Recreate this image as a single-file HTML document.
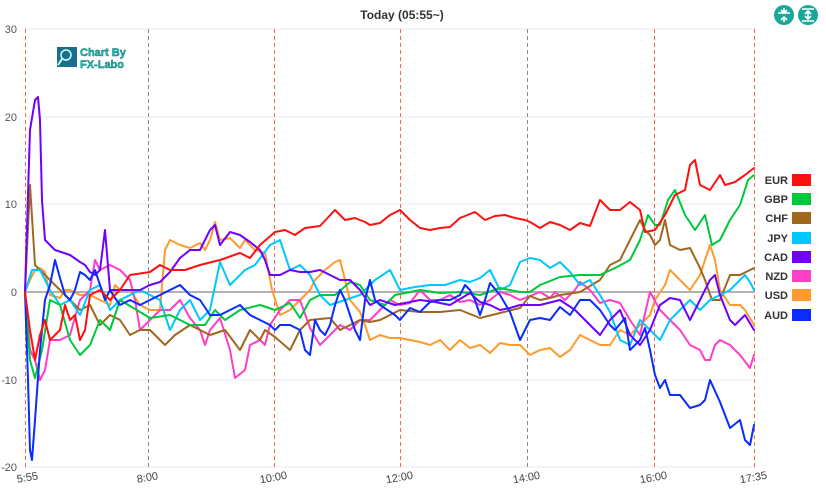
<!DOCTYPE html>
<html><head><meta charset="utf-8"><style>
html,body{margin:0;padding:0;background:#fff;}
svg{display:block;font-family:"Liberation Sans",sans-serif;}
</style></head><body>
<svg width="826" height="497" viewBox="0 0 826 497" xmlns="http://www.w3.org/2000/svg">
<rect width="826" height="497" fill="#fff"/>
<text x="402" y="19" font-size="12" font-weight="bold" fill="#333" text-anchor="middle">Today  (05:55~)</text>
<circle cx="784" cy="15" r="10" fill="#1aa79a"/>
<circle cx="808" cy="15" r="10" fill="#1aa79a"/>
<path d="M778 13h12M784 8v4M784 18v4M781 10l3 3 3-3M781 20l3-3 3 3" stroke="#fff" stroke-width="1.6" fill="none"/>
<path d="M802 9h12M802 21h12M808 11v8M805 14l3-3 3 3M805 16l3 3 3-3" stroke="#fff" stroke-width="1.6" fill="none"/>
<g stroke="#e6e9f0" stroke-width="1">
<line x1="25" y1="29" x2="755" y2="29"/><line x1="25" y1="117" x2="755" y2="117"/><line x1="25" y1="204" x2="755" y2="204"/><line x1="25" y1="380" x2="755" y2="380"/><line x1="25" y1="467" x2="755" y2="467"/>
</g>
<line x1="25" y1="292" x2="755" y2="292" stroke="#999" stroke-width="1.5"/>
<g font-size="11" fill="#555" text-anchor="end">
<text x="17" y="33">30</text><text x="17" y="121">20</text><text x="17" y="208">10</text><text x="17" y="296">0</text><text x="17" y="384">-10</text><text x="17" y="471">-20</text>
</g>
<g stroke="#ee6a50" stroke-width="1" stroke-dasharray="4,3">
<line x1="25.5" y1="29" x2="25.5" y2="467"/><line x1="274.5" y1="29" x2="274.5" y2="467"/><line x1="400.5" y1="29" x2="400.5" y2="467"/><line x1="654.5" y1="29" x2="654.5" y2="467"/><line x1="754.5" y1="29" x2="754.5" y2="467"/>
</g>
<g stroke="#8a8a8a" stroke-width="1" stroke-dasharray="4,3">
<line x1="148.5" y1="29" x2="148.5" y2="467"/><line x1="527.5" y1="29" x2="527.5" y2="467"/>
</g>
<g font-size="11" fill="#444" text-anchor="middle">
<text transform="translate(28,481) rotate(-10)">5:55</text>
<text transform="translate(148,481) rotate(-10)">8:00</text>
<text transform="translate(274,481) rotate(-10)">10:00</text>
<text transform="translate(400,481) rotate(-10)">12:00</text>
<text transform="translate(527,481) rotate(-10)">14:00</text>
<text transform="translate(654,481) rotate(-10)">16:00</text>
<text transform="translate(754,481) rotate(-10)">17:35</text>
</g>
<rect x="57" y="47" width="20" height="20" fill="#1a6f8f"/>
<circle cx="66" cy="55" r="5" fill="none" stroke="#cfe" stroke-width="1.5"/>
<line x1="62" y1="59" x2="58" y2="65" stroke="#cfe" stroke-width="2"/>
<text x="80" y="56" font-size="11" font-weight="bold" fill="#16c0b0" stroke="#0a6a70" stroke-width="0.4">Chart By</text>
<text x="80" y="68" font-size="11" font-weight="bold" fill="#16c0b0" stroke="#0a6a70" stroke-width="0.4">FX-Labo</text>
<g fill="none" stroke-width="2" stroke-linejoin="round" stroke-linecap="round">
<polyline stroke="#ff9a2e" points="25,292 30,280 35,270 40,268 45,272 50,295 60,298 65,290 70,290 80,295 90,295 100,300 110,305 115,285 120,290 130,290 140,305 150,310 160,310 165,250 170,240 180,245 190,248 200,243 205,250 210,240 215,222 220,240 230,238 240,248 245,240 255,250 265,253 272,290 280,315 290,310 300,300 310,290 315,280 325,270 335,262 340,260 345,280 350,300 360,312 365,325 370,340 380,335 390,338 400,338 410,340 420,342 430,345 440,340 450,350 460,340 470,348 480,345 490,353 500,343 510,345 520,345 530,355 540,350 550,348 560,357 570,350 580,335 590,340 600,345 610,345 620,330 630,335 640,325 650,315 655,300 665,285 670,270 680,280 690,290 700,275 710,245 715,260 720,290 730,305 740,305 745,310 754,325"/>
<polyline stroke="#ff3ec8" points="25,292 30,350 35,360 40,380 45,370 50,340 60,340 70,335 80,300 85,295 90,290 95,260 100,270 110,265 120,270 130,280 135,300 140,330 150,320 160,310 170,310 180,300 190,318 200,330 205,345 210,330 220,318 230,350 235,378 245,370 250,345 260,340 265,345 270,325 280,310 290,300 300,300 310,328 320,345 330,335 340,325 350,330 360,320 370,320 380,310 390,300 400,305 410,303 420,290 430,300 440,300 450,295 460,302 470,300 480,305 490,300 500,292 510,295 520,300 530,296 540,292 550,298 555,292 565,300 575,290 580,282 590,290 600,303 610,300 620,303 630,320 640,335 650,292 660,310 670,320 680,330 690,345 700,350 705,360 710,360 715,345 720,340 730,345 740,355 750,368 754,355"/>
<polyline stroke="#a0681f" points="25,292 30,185 35,265 40,270 50,280 60,290 70,300 80,310 90,305 100,325 110,315 120,320 130,335 140,330 150,330 165,345 175,335 190,325 210,335 225,330 240,350 250,330 260,340 265,330 275,337 290,350 300,330 310,320 330,318 340,330 350,325 360,320 370,322 380,320 400,310 420,312 440,312 460,310 480,318 500,313 520,308 530,296 540,300 550,298 560,295 580,292 600,280 610,265 620,260 630,240 640,220 645,230 650,235 655,245 660,240 665,220 670,245 680,250 690,248 700,268 705,280 712,300 720,300 730,275 740,275 754,268"/>
<polyline stroke="#00c8ff" points="25,292 32,270 40,270 50,290 60,305 70,300 80,315 90,290 100,285 110,310 120,300 140,290 160,300 170,330 180,310 190,300 200,320 210,310 220,262 230,285 245,270 255,265 270,245 280,240 290,270 300,265 310,275 320,295 330,305 345,300 360,295 375,280 390,270 400,290 415,287 430,285 445,285 460,280 470,282 480,278 490,270 500,290 510,285 520,262 530,258 540,260 550,268 560,262 570,272 580,285 590,280 600,295 610,312 620,340 630,345 640,320 650,330 660,340 670,320 680,310 690,300 700,310 710,300 720,295 730,290 740,280 745,275 750,282 754,290"/>
<polyline stroke="#00c83c" points="25,292 30,360 35,378 42,350 50,300 60,305 70,340 80,355 90,345 100,320 110,330 120,300 150,318 170,315 190,325 205,325 215,310 225,320 240,310 260,305 275,310 290,303 300,318 310,300 320,295 335,295 350,282 360,285 370,300 385,305 395,295 420,290 440,293 460,292 480,295 500,288 520,292 530,292 540,285 560,277 580,275 600,275 615,268 630,260 640,240 648,215 655,225 660,225 668,200 675,190 685,215 695,230 705,215 712,245 720,240 730,220 740,205 748,180 754,175"/>
<polyline stroke="#7000ff" points="25,292 30,130 35,100 38,97 40,120 42,200 45,240 55,250 70,255 80,262 85,265 90,272 95,275 100,270 105,230 110,290 120,290 130,290 140,290 150,285 160,282 170,272 180,258 190,250 200,250 210,230 215,225 220,245 230,232 240,235 250,242 260,250 265,260 270,275 280,275 290,270 300,272 310,272 320,270 330,275 340,280 350,280 360,290 370,305 380,300 395,305 410,302 420,300 435,302 450,305 470,293 480,302 490,305 500,310 510,308 520,305 540,305 560,300 575,310 590,325 600,335 610,320 620,310 630,335 640,345 650,330 660,305 670,298 680,300 690,320 700,300 710,280 715,275 720,295 730,320 735,325 745,315 754,330"/>
<polyline stroke="#0a2cff" points="25,292 28,380 30,450 32,460 35,420 40,350 45,300 50,285 55,260 60,278 65,295 70,300 75,290 80,272 85,275 90,280 95,270 100,285 105,300 110,290 115,298 120,305 130,300 140,305 150,300 160,295 170,290 180,285 190,295 200,300 210,315 220,315 230,310 240,305 250,315 260,320 270,325 275,330 280,325 290,325 300,330 305,350 310,355 315,320 320,330 325,335 330,325 335,305 340,290 345,300 355,330 360,340 365,300 370,280 375,300 380,305 395,315 400,320 410,308 420,312 430,302 440,300 450,300 460,295 465,285 470,290 475,300 480,315 485,300 490,283 500,295 510,312 520,340 530,320 540,318 550,320 560,307 570,315 580,300 590,300 600,310 610,325 615,330 625,318 630,350 640,340 645,328 650,350 655,375 660,388 665,380 670,395 680,395 690,408 700,405 705,400 710,380 720,402 730,428 740,420 745,440 750,445 754,425"/>
<polyline stroke="#ff1010" points="25,292 30,330 35,360 40,335 45,320 50,340 60,330 65,305 70,320 75,315 80,340 85,330 90,295 100,290 110,300 120,290 130,275 150,272 160,265 170,270 185,270 200,265 220,260 240,253 250,258 260,245 275,232 285,230 295,235 305,228 320,226 335,210 345,220 355,218 365,222 370,225 380,223 390,215 400,210 410,220 420,228 430,230 440,228 450,227 460,218 475,212 485,220 495,216 505,215 515,218 525,220 530,222 540,228 550,222 560,225 570,230 580,223 590,226 600,200 610,210 620,210 630,202 640,210 645,232 655,230 665,215 675,195 685,190 690,165 695,160 700,185 710,190 720,175 725,185 735,182 745,175 754,168"/>
</g>
<g font-size="11" font-weight="bold" fill="#333" text-anchor="end">
<text x="788" y="184">EUR</text><text x="788" y="203">GBP</text><text x="788" y="222">CHF</text><text x="788" y="242">JPY</text><text x="788" y="261">CAD</text><text x="788" y="280">NZD</text><text x="788" y="299">USD</text><text x="788" y="319">AUD</text>
</g>
<g>
<rect x="792" y="174" width="19" height="12" fill="#ff1010"/>
<rect x="792" y="193" width="19" height="12" fill="#00c83c"/>
<rect x="792" y="212" width="19" height="12" fill="#a0681f"/>
<rect x="792" y="232" width="19" height="12" fill="#00c8ff"/>
<rect x="792" y="251" width="19" height="12" fill="#7000ff"/>
<rect x="792" y="270" width="19" height="12" fill="#ff3ec8"/>
<rect x="792" y="289" width="19" height="12" fill="#ff9a2e"/>
<rect x="792" y="309" width="19" height="12" fill="#0a2cff"/>
</g>
</svg>
</body></html>
